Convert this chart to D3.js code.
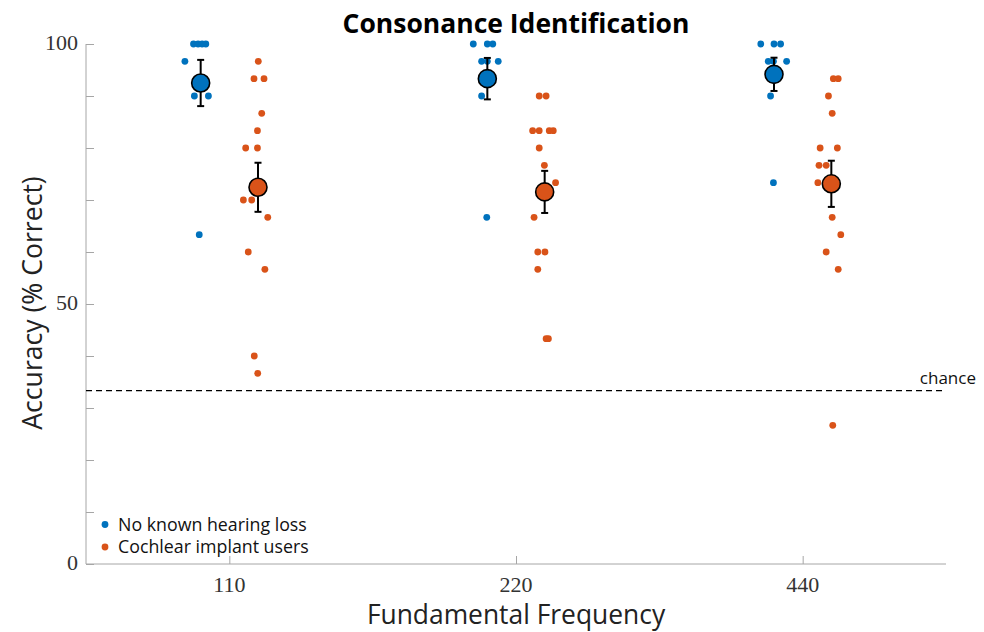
<!doctype html>
<html>
<head>
<meta charset="utf-8">
<script src="https://d3js.org/d3.v7.min.js"></script>
<style>
  body { margin: 0; background: #fff; }
  svg { display: block; }
</style>
</head>
<body>
<svg id="chart" width="984" height="632"></svg>
<script>
// categories (fundamental frequency, Hz)
var categories = ["110", "220", "440"];

// individual accuracies (% correct), with small horizontal jitter (category units)
var nhValues = [
  [100, 100, 100, 100, 96.67, 90, 90, 63.33],
  [100, 100, 100, 96.67, 96.67, 96.67, 90, 66.67],
  [100, 100, 100, 96.67, 96.67, 96.67, 90, 73.33]
];
var nhJitter = [
  [-0.025, -0.009, 0.005, 0.018, -0.055, -0.022, 0.027, -0.005],
  [-0.049, 0, 0.019, -0.020, 0, 0.038, -0.020, -0.002],
  [-0.046, 0, 0.023, -0.020, -0.002, 0.044, -0.012, -0.002]
];
var ciValues = [
  [96.67, 93.33, 93.33, 86.67, 83.33, 80, 80, 73.33, 70, 70, 66.67, 60, 56.67, 40, 36.67],
  [90, 90, 83.33, 83.33, 83.33, 83.33, 80, 76.67, 73.33, 66.67, 60, 60, 56.67, 43.33, 43.33],
  [93.33, 93.33, 90, 86.67, 80, 80, 76.67, 76.67, 73.33, 73.33, 66.67, 63.33, 60, 56.67, 26.67]
];
var ciJitter = [
  [0.001, -0.014, 0.021, 0.013, -0.002, -0.043, -0.002, 0, -0.051, -0.022, 0.034, -0.034, 0.024, -0.013, -0.001],
  [-0.019, 0.005, -0.042, -0.019, 0.016, 0.030, -0.019, -0.001, 0.038, -0.037, -0.024, 0.001, -0.024, 0.005, 0.013],
  [0.007, 0.024, -0.010, 0.003, -0.039, 0.021, -0.043, -0.018, -0.047, 0, 0.003, 0.033, -0.018, 0.024, 0.005]
];

var chanceLevel = 100 / 3;
var yTicks = d3.range(0, 101, 10);
var yTickLabels = [0, 50, 100];

var groups = [
  { name: "No known hearing loss", color: "#0072BD", shift: -0.1, values: nhValues, jitter: nhJitter },
  { name: "Cochlear implant users", color: "#D95319", shift: 0.1, values: ciValues, jitter: ciJitter }
];

var svg = d3.select("#chart");
var axisColor = "#a6a6a6";
var sans = "'Open Sans', 'Liberation Sans', Arial, sans-serif";
var serif = "'Liberation Serif', serif";

var x = d3.scaleLinear().domain([0.5, 3.5]).range([86, 946]);
var y = d3.scaleLinear().domain([0, 100]).range([564, 44]);

// axes
var yAxis = svg.append("g")
  .attr("transform", "translate(86,0)")
  .call(d3.axisRight(y).tickValues(yTicks).tickSize(8).tickFormat(""));
yAxis.select(".domain").attr("stroke", axisColor).attr("d", "M0,44V564");
yAxis.selectAll(".tick line").attr("stroke", axisColor);

var xAxis = svg.append("g")
  .attr("transform", "translate(0,564)")
  .call(d3.axisTop(x).tickValues([1, 2, 3]).tickSize(8).tickFormat(""));
xAxis.select(".domain").attr("stroke", axisColor).attr("d", "M86,0H946");
xAxis.selectAll(".tick line").attr("stroke", axisColor);

svg.append("g").selectAll("text")
  .data(yTickLabels).enter().append("text")
  .attr("x", 78).attr("y", function(d){ return y(d) - 2; })
  .attr("dy", "0.35em")
  .attr("text-anchor", "end")
  .style("font-family", serif)
  .style("font-size", "22px")
  .attr("fill", "#333")
  .text(function(d){ return d; });

svg.append("g").selectAll("text")
  .data(categories).enter().append("text")
  .attr("x", function(d, i){ return x(i + 1); })
  .attr("y", 592)
  .attr("text-anchor", "middle")
  .style("font-family", serif)
  .style("font-size", "22px")
  .attr("fill", "#333")
  .text(function(d){ return d; });

// chance line
svg.append("line")
  .attr("x1", x(0.5)).attr("x2", x(3.5))
  .attr("y1", y(chanceLevel)).attr("y2", y(chanceLevel))
  .attr("stroke", "#000").attr("stroke-width", 1.3)
  .attr("stroke-dasharray", "6,4");
svg.append("text")
  .attr("x", 976).attr("y", y(chanceLevel) - 7)
  .attr("text-anchor", "end")
  .style("font-family", sans)
  .style("font-size", "17px")
  .attr("fill", "#111")
  .text("chance");

// points, means and SEM bars
groups.forEach(function(g) {
  g.values.forEach(function(vals, ci) {
    var pts = vals.map(function(v, k){ return { v: v, dx: g.jitter[ci][k] }; });
    svg.append("g").selectAll("circle")
      .data(pts).enter().append("circle")
      .attr("cx", function(d){ return x(ci + 1 + g.shift + d.dx); })
      .attr("cy", function(d){ return y(d.v); })
      .attr("r", 3.4)
      .attr("fill", g.color);
  });
});

groups.forEach(function(g) {
  g.values.forEach(function(vals, ci) {
    var m = d3.mean(vals);
    var sem = d3.deviation(vals) / Math.sqrt(vals.length);
    var cx = x(ci + 1 + g.shift);
    var eb = svg.append("g").attr("stroke", "#000").attr("stroke-width", 2);
    eb.append("line").attr("x1", cx).attr("x2", cx).attr("y1", y(m - sem)).attr("y2", y(m + sem));
    [m - sem, m + sem].forEach(function(v){
      eb.append("line").attr("x1", cx - 3.5).attr("x2", cx + 3.5).attr("y1", y(v)).attr("y2", y(v));
    });
    svg.append("circle")
      .attr("cx", cx).attr("cy", y(m)).attr("r", 9)
      .attr("fill", g.color).attr("stroke", "#000").attr("stroke-width", 1.6);
  });
});

// legend
var legend = svg.append("g");
groups.forEach(function(g, i) {
  legend.append("circle").attr("cx", 105).attr("cy", 524.5 + i * 22.5).attr("r", 3.4).attr("fill", g.color);
  legend.append("text")
    .attr("x", 118).attr("y", 524.5 + i * 22.5).attr("dy", "0.35em")
    .style("font-family", sans)
    .style("font-size", "17.8px")
    .attr("fill", "#111")
    .text(g.name);
});

// titles
svg.append("text")
  .attr("x", 516).attr("y", 33)
  .attr("text-anchor", "middle")
  .style("font-family", sans)
  .style("font-size", "26.5px").style("font-weight", "bold")
  .text("Consonance Identification");

svg.append("text")
  .attr("x", 516).attr("y", 624)
  .attr("text-anchor", "middle")
  .style("font-family", sans)
  .style("font-size", "26.4px")
  .attr("fill", "#222")
  .text("Fundamental Frequency");

svg.append("text")
  .attr("transform", "translate(42,303) rotate(-90)")
  .attr("text-anchor", "middle")
  .style("font-family", sans)
  .style("font-size", "26.6px")
  .attr("fill", "#222")
  .text("Accuracy (% Correct)");
</script>
</body>
</html>
